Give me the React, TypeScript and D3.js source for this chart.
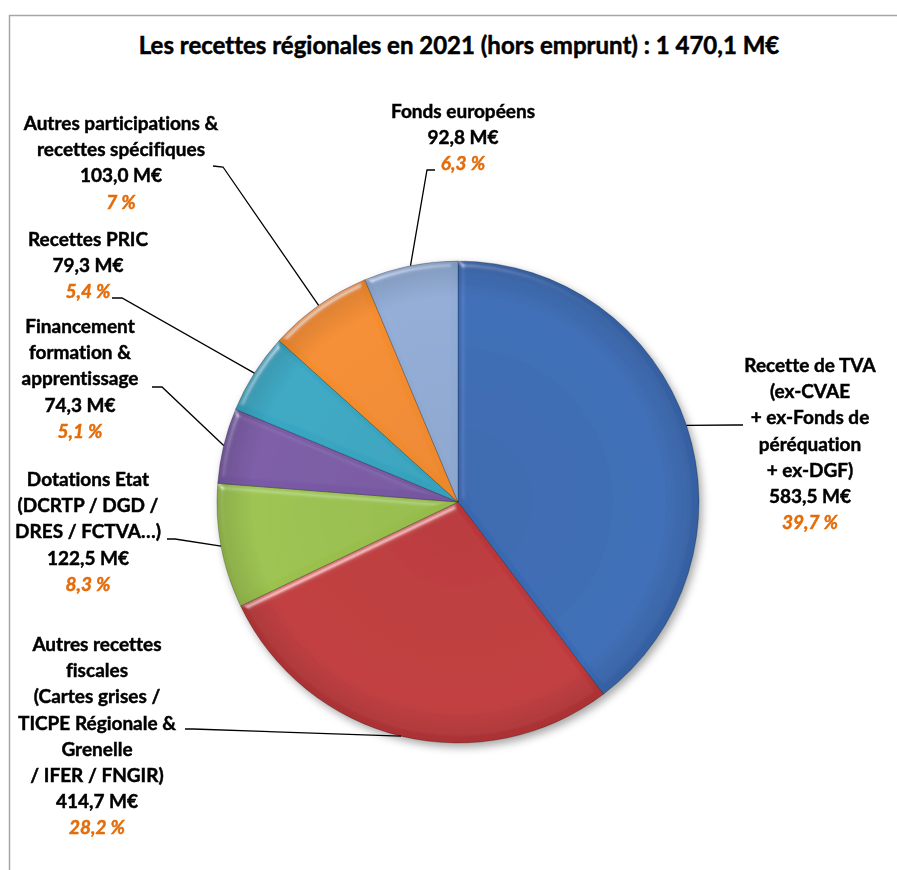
import { useEffect } from "react";
import * as d3 from "d3";

// data (M€)
const categories = [
  ["Recette de TVA", "(ex-CVAE", "+ ex-Fonds de", "péréquation", "+ ex-DGF)"],
  ["Autres recettes", "fiscales", "(Cartes grises /", "TICPE Régionale &", "Grenelle", "/ IFER / FNGIR)"],
  ["Dotations Etat", "(DCRTP / DGD /", "DRES / FCTVA…)"],
  ["Financement", "formation &", "apprentissage"],
  ["Recettes PRIC"],
  ["Autres participations &", "recettes spécifiques"],
  ["Fonds européens"],
];
const values = [583.5, 414.7, 122.5, 74.3, 79.3, 103.0, 92.8];
const valueLabels = ["583,5 M€", "414,7 M€", "122,5 M€", "74,3 M€", "79,3 M€", "103,0 M€", "92,8 M€"];
const percentLabels = ["39,7 %", "28,2 %", "8,3 %", "5,1 %", "5,4 %", "7 %", "6,3 %"];

const colors = ["#3a6cb6", "#c0393b", "#9bc24e", "#7a5aa6", "#38a7c3", "#f58d2d", "#91acd6"];

// label layout: centre x, first baseline, leader start, leader elbow
const labelLayout = [
  { x: 810, y: 372, start: [743, 425], elbow: [736, 425] },
  { x: 97, y: 651, start: [185, 729], elbow: [193, 729] },
  { x: 88, y: 486, start: [167, 539], elbow: [175, 539] },
  { x: 80, y: 333, start: [152, 387], elbow: [162, 387] },
  { x: 88, y: 246, start: [112, 298], elbow: [122, 298] },
  { x: 121, y: 130, start: [213, 166], elbow: [223, 167] },
  { x: 463, y: 118, start: [435, 170], elbow: [427, 170] },
];

const W = 897;
const H = 870;
const cx = 458;
const cy = 502;
const R = 241;
const lineH = 26.2;
const font = "Lato, 'Open Sans', sans-serif";
const orange = "#e46c0a";

export default function App() {
  useEffect(() => {
    document.body.style.margin = "0";
  }, []);

  const pie = d3
    .pie<number>()
    .sort(null)
    .value((d) => d);
  const arcs = pie(values);
  const arc = d3.arc<d3.PieArcDatum<number>>().innerRadius(0).outerRadius(R);
  const rim = d3.arc<d3.PieArcDatum<number>>().innerRadius(R).outerRadius(R);

  return (
    <svg width={W} height={H} style={{ display: "block", background: "#fff", fontVariantLigatures: "none" }}>
      <defs>
        <filter id="shadow" x="-20%" y="-20%" width="140%" height="140%">
          <feDropShadow dx="3" dy="4" stdDeviation="4" floodColor="#000" floodOpacity="0.35" />
        </filter>
        <filter id="bevel" x="-5%" y="-5%" width="110%" height="110%">
          <feGaussianBlur in="SourceAlpha" stdDeviation="3" result="blur" />
          <feSpecularLighting
            in="blur"
            surfaceScale="4"
            specularConstant="0.9"
            specularExponent="30"
            lightingColor="#ffffff"
            result="spec"
          >
            <feDistantLight azimuth="235" elevation="35" />
          </feSpecularLighting>
          <feComposite in="spec" in2="SourceAlpha" operator="in" result="specIn" />
          <feComposite in="SourceGraphic" in2="specIn" operator="arithmetic" k1="0" k2="1" k3="0.5" k4="0" />
        </filter>
        <radialGradient id="shade" cx="0.5" cy="0.5" r="0.5">
          <stop offset="0%" stopColor="#000" stopOpacity="0.04" />
          <stop offset="85%" stopColor="#000" stopOpacity="0" />
          <stop offset="100%" stopColor="#000" stopOpacity="0.12" />
        </radialGradient>
      </defs>

      {/* frame */}
      <rect x={9.5} y={15.5} width={W + 20} height={H + 20} fill="none" stroke="#a6a6a6" strokeWidth={1.5} />

      <text
        x={459}
        y={54}
        textAnchor="middle"
        fontFamily={font}
        fontWeight="bold"
        fontSize={24}
        fill="#000"
        stroke="#000"
        strokeWidth={0.5}
      >
        Les recettes régionales en 2021 (hors emprunt) : 1 470,1 M€
      </text>

      <g transform={`translate(${cx},${cy})`} filter="url(#shadow)">
        {arcs.map((a, i) => (
          <path
            key={i}
            d={arc(a) as string}
            fill={colors[i]}
            stroke="rgba(0,0,0,0.3)"
            strokeWidth={0.8}
            filter="url(#bevel)"
          />
        ))}
        <circle r={R} fill="url(#shade)" />
      </g>

      {/* leader lines */}
      <g fill="none" stroke="#000" strokeWidth={1.3}>
        {arcs.map((a, i) => {
          const [ex, ey] = rim.centroid(a);
          const l = labelLayout[i];
          const pts = [l.start, l.elbow, [cx + ex, cy + ey]];
          return <polyline key={i} points={pts.map((p) => p.join(",")).join(" ")} />;
        })}
      </g>

      {/* labels */}
      <g fontFamily={font} fontWeight="bold" fontSize={19} textAnchor="middle" strokeWidth={0.45}>
        {categories.map((lines, i) => {
          const l = labelLayout[i];
          const all = [...lines, valueLabels[i]];
          return (
            <text key={i} x={l.x} y={l.y} fill="#000" stroke="#000">
              {all.map((t, j) => (
                <tspan key={j} x={l.x} y={l.y + j * lineH}>
                  {t}
                </tspan>
              ))}
              <tspan
                x={l.x}
                y={l.y + all.length * lineH}
                fill={orange}
                stroke={orange}
                fontStyle="italic"
              >
                {percentLabels[i]}
              </tspan>
            </text>
          );
        })}
      </g>
    </svg>
  );
}
